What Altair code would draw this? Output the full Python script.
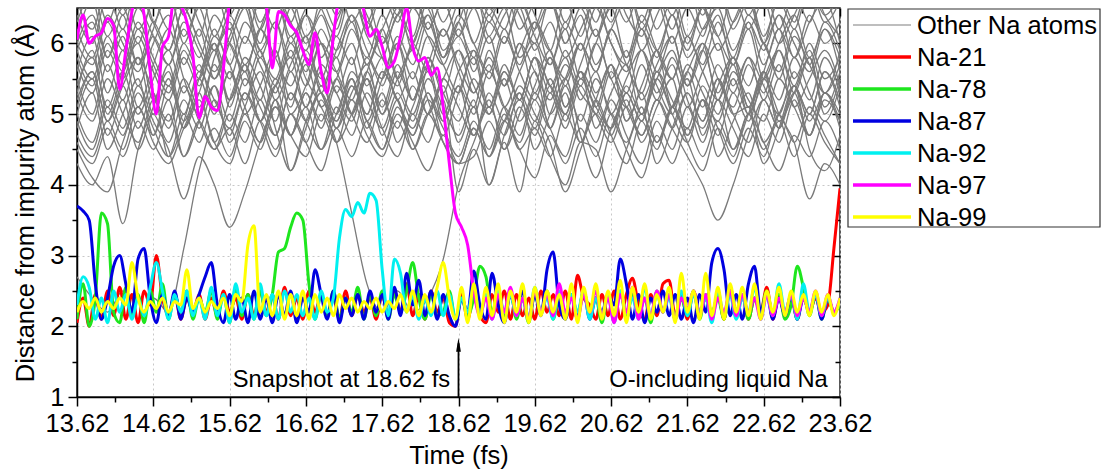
import altair as alt
import pandas as pd

FONT = "Liberation Sans"

# ---------------- axis ticks ----------------
x_major = [13.62, 14.62, 15.62, 16.62, 17.62, 18.62, 19.62, 20.62, 21.62, 22.62, 23.62]
x_minor = [14.12, 15.12, 16.12, 17.12, 18.12, 19.12, 20.12, 21.12, 22.12, 23.12]
y_major = [1, 2, 3, 4, 5, 6]
y_minor = [1.5, 2.5, 3.5, 4.5, 5.5]

# ---------------- time grids ----------------
T0 = 13.62
STEP_COLOR = 0.08   # highlighted atoms sampled every 0.08 fs (126 points)
STEP_GRAY = 0.2     # other atoms sampled every 0.2 fs (51 points)

# ---------------- highlighted atoms ----------------
series_names = ["Na-21", "Na-78", "Na-87", "Na-92", "Na-97", "Na-99"]
series_colors = ["#ff0000", "#1ee61e", "#0000e0", "#00f0f0", "#ff00ff", "#ffff00"]

na21 = [2.05, 2.40, 2.00, 2.45, 2.10, 2.50, 2.15, 2.55, 2.10, 2.45,
        2.05, 2.50, 2.30, 3.00, 2.40, 2.15, 2.45, 2.10, 2.40, 2.20,
        2.45, 2.10, 2.40, 2.15, 2.50, 2.20, 2.40, 2.10, 2.45, 2.15,
        2.50, 2.20, 2.45, 2.10, 2.55, 2.15, 2.40, 2.10, 2.50, 2.20,
        2.45, 2.15, 2.40, 2.10, 2.50, 2.15, 2.45, 2.20, 2.40, 2.10,
        2.45, 2.15, 2.50, 2.20, 2.60, 2.15, 2.45, 2.10, 2.50, 2.20,
        2.40, 2.05, 2.00, 2.45, 2.10, 2.40, 2.15, 2.05, 2.45, 2.20,
        2.50, 2.10, 2.45, 2.15, 2.40, 2.10, 2.50, 2.20, 2.45, 2.15,
        2.50, 2.10, 2.72, 2.40, 2.30, 2.10, 2.45, 2.15, 2.50, 2.10,
        2.45, 2.68, 2.30, 2.10, 2.45, 2.15, 2.60, 2.65, 2.15, 2.45,
        2.10, 2.50, 2.20, 2.40, 2.15, 2.45, 2.10, 2.55, 2.20, 2.45,
        2.10, 2.40, 2.20, 2.55, 2.10, 2.45, 2.15, 2.40, 2.10, 2.45,
        2.20, 2.40, 2.20, 2.30, 3.10, 3.95]

na78 = [2.10, 2.60, 2.00, 2.40, 3.60, 3.45, 2.20, 2.05, 2.55, 2.15,
        2.45, 2.05, 2.50, 2.20, 2.60, 2.10, 2.45, 2.20, 2.50, 2.10,
        2.40, 2.20, 2.50, 2.10, 2.45, 2.05, 2.55, 2.15, 2.45, 2.10,
        2.50, 2.15, 2.45, 3.05, 3.10, 3.40, 3.60, 3.50, 2.60, 2.10,
        2.45, 2.15, 2.50, 2.10, 2.40, 2.20, 2.55, 2.10, 2.45, 2.15,
        2.50, 2.10, 2.45, 2.20, 2.50, 2.90, 2.40, 2.10, 2.45, 2.15,
        2.20, 2.50, 2.10, 2.40, 2.15, 2.40, 2.85, 2.70, 2.20, 2.45,
        2.15, 2.50, 2.10, 2.40, 2.05, 2.45, 2.20, 2.50, 2.10, 2.40,
        2.15, 2.45, 2.10, 2.50, 2.20, 2.40, 2.05, 2.45, 2.15, 2.50,
        2.10, 2.45, 2.15, 2.40, 2.05, 2.50, 2.20, 2.45, 2.10, 2.40,
        2.15, 2.50, 2.10, 2.45, 2.20, 2.40, 2.10, 2.50, 2.15, 2.45,
        2.10, 2.40, 2.20, 2.50, 2.15, 2.45, 2.10, 2.30, 2.85, 2.55,
        2.15, 2.45, 2.10, 2.40, 2.20, 2.30]

na87 = [3.70, 3.63, 3.50, 2.60, 2.10, 2.40, 2.85, 3.00, 2.60, 2.20,
        2.95, 3.10, 2.40, 2.05, 2.45, 2.15, 2.50, 2.10, 2.40, 2.20,
        2.45, 2.70, 2.90, 2.30, 2.05, 2.45, 2.10, 2.40, 2.05, 2.50,
        2.10, 2.40, 2.05, 2.45, 2.15, 2.50, 2.05, 2.40, 2.20, 2.80,
        2.45, 2.10, 2.50, 2.05, 2.40, 2.15, 2.45, 2.10, 2.50, 2.20,
        2.45, 2.10, 2.55, 2.15, 2.75, 2.30, 2.65, 2.15, 2.50, 2.10,
        2.45, 2.15, 2.00, 2.40, 2.20, 2.78, 2.30, 2.10, 2.75, 2.30,
        2.05, 2.45, 2.20, 2.50, 2.10, 2.45, 2.15, 2.80, 3.05, 2.30,
        2.10, 2.45, 2.15, 2.50, 2.10, 2.40, 2.20, 2.45, 2.30, 2.95,
        2.60, 2.10, 2.45, 2.05, 2.40, 2.20, 2.50, 2.15, 2.45, 2.10,
        2.40, 2.05, 2.45, 2.20, 2.90, 3.10, 2.80, 2.15, 2.45, 2.10,
        2.60, 2.85, 2.20, 2.45, 2.10, 2.40, 2.15, 2.45, 2.10, 2.40,
        2.20, 2.45, 2.10, 2.40, 2.20, 2.35]

na92 = [2.30, 2.70, 2.55, 2.10, 2.40, 2.05, 2.50, 2.20, 2.45, 2.10,
        2.40, 2.15, 2.55, 2.90, 2.50, 2.10, 2.45, 2.20, 2.50, 2.15,
        2.40, 2.10, 2.55, 2.15, 2.45, 2.05, 2.60, 2.20, 2.40, 2.10,
        2.60, 2.15, 2.45, 2.10, 2.50, 2.20, 2.45, 2.15, 2.40, 2.10,
        2.50, 2.20, 2.40, 3.25, 3.65, 3.55, 3.75, 3.60, 3.88, 3.78,
        2.80, 2.15, 2.95, 2.75, 2.20, 2.45, 2.10, 2.40, 2.15, 2.50,
        2.15, 2.45, 2.10, 2.40, 2.20, 2.55, 2.15, 2.45, 2.10, 2.50,
        2.20, 2.45, 2.15, 2.40, 2.10, 2.55, 2.20, 2.40, 2.10, 2.50,
        2.15, 2.45, 2.20, 2.50, 2.10, 2.40, 2.15, 2.45, 2.05, 2.50,
        2.20, 2.40, 2.10, 2.55, 2.15, 2.45, 2.20, 2.40, 2.10, 2.50,
        2.15, 2.45, 2.20, 2.40, 2.05, 2.50, 2.15, 2.45, 2.10, 2.40,
        2.20, 2.55, 2.10, 2.45, 2.15, 2.60, 2.20, 2.45, 2.10, 2.60,
        2.20, 2.45, 2.15, 2.40, 2.20, 2.35]

na97 = [6.05, 6.40, 6.00, 6.10, 6.15, 6.35, 6.25, 5.35, 5.90, 6.45,
        6.70, 6.40, 5.60, 5.00, 5.95, 6.10, 6.70, 6.55, 6.30, 5.82,
        4.95, 5.25, 5.10, 5.05, 5.65, 6.60, 6.90, 7.00, 7.00, 6.90,
        6.80, 6.55, 5.65, 6.45, 6.40, 6.25, 6.15, 5.90, 5.70, 6.15,
        5.60, 5.30, 6.10, 6.70, 6.90, 7.00, 6.90, 6.45, 6.10, 6.20,
        5.95, 5.66, 5.75, 6.10, 6.50, 5.95, 5.75, 5.80, 5.55, 5.65,
        5.10, 4.30, 3.60, 3.40, 3.15, 2.50, 2.15, 2.40, 2.10, 2.45,
        2.20, 2.55, 2.15, 2.40, 2.10, 2.50, 2.20, 2.45, 2.15, 2.60,
        2.20, 2.40, 2.10, 2.45, 2.20, 2.50, 2.15, 2.40, 2.05, 2.45,
        2.20, 2.55, 2.10, 2.40, 2.15, 2.50, 2.20, 2.45, 2.10, 2.40,
        2.25, 2.50, 2.15, 2.45, 2.10, 2.40, 2.20, 2.50, 2.15, 2.45,
        2.20, 2.40, 2.10, 2.45, 2.15, 2.40, 2.20, 2.45, 2.15, 2.40,
        2.20, 2.50, 2.15, 2.45, 2.20, 2.40]

na99 = [2.20, 2.35, 2.25, 2.40, 2.20, 2.35, 2.25, 2.40, 2.30, 2.90,
        2.40, 2.20, 2.35, 2.25, 2.40, 2.20, 2.35, 2.30, 2.80, 2.25,
        2.40, 2.20, 2.35, 2.25, 2.40, 2.15, 2.45, 2.35, 3.15, 3.42,
        2.20, 2.45, 2.15, 2.50, 2.10, 2.45, 2.15, 2.50, 2.10, 2.45,
        2.20, 2.40, 2.15, 2.45, 2.25, 2.40, 2.20, 2.35, 2.25, 2.40,
        2.20, 2.35, 2.25, 2.45, 2.20, 2.50, 2.15, 2.45, 2.20, 2.55,
        2.90, 2.40, 2.10, 2.55, 2.05, 2.60, 2.10, 2.55, 2.15, 2.60,
        2.05, 2.50, 2.20, 2.60, 2.05, 2.55, 2.15, 2.50, 2.20, 2.45,
        2.10, 2.60, 2.05, 2.55, 2.20, 2.60, 2.10, 2.50, 2.15, 2.65,
        2.05, 2.55, 2.20, 2.60, 2.10, 2.45, 2.20, 2.55, 2.05, 2.75,
        2.20, 2.50, 2.10, 2.75, 2.15, 2.55, 2.10, 2.60, 2.20, 2.55,
        2.15, 2.60, 2.10, 2.50, 2.20, 2.55, 2.15, 2.50, 2.20, 2.45,
        2.15, 2.50, 2.20, 2.45, 2.15, 2.40]

series_values = [na21, na78, na87, na92, na97, na99]

# ---------------- other Na atoms ----------------
g01 = [4.5, 4.1, 3.9, 4.6, 5.1, 4.7, 5.4, 5.0, 5.6, 5.2, 4.8, 5.3, 4.9, 5.5, 5.1, 5.8, 5.3, 4.9, 5.4, 5.0,
       5.6, 5.2, 4.8, 5.3, 4.6, 4.3, 4.4, 4.9, 4.5, 5.1, 4.7, 5.3, 4.8, 5.4, 5.0, 5.6, 5.1, 4.7, 5.2, 4.8,
       5.3, 4.9, 5.5, 5.0, 4.6, 5.2, 4.8, 5.4, 4.9, 5.3, 4.9]
g02 = [4.3, 4.0, 4.4, 3.45, 4.5, 5.0, 4.6, 5.2, 4.8, 5.4, 4.9, 5.5, 5.1, 4.7, 5.3, 4.9, 5.4, 5.0, 5.6, 5.2,
       4.8, 5.3, 4.9, 5.5, 5.1, 4.7, 5.2, 4.0, 4.7, 5.2, 4.8, 5.4, 4.9, 5.5, 5.1, 4.8, 5.3, 4.9, 5.6, 5.2,
       4.8, 5.4, 5.0, 5.6, 5.2, 4.9, 5.5, 5.1, 4.7, 5.3, 5.0]
g03 = [5.0, 4.6, 5.2, 4.8, 5.4, 4.9, 4.5, 3.8, 4.4, 4.0, 3.4, 3.9, 4.6, 5.1, 4.7, 5.3, 4.8, 5.4, 5.0, 4.6,
       5.2, 4.8, 5.4, 5.0, 5.5, 5.1, 4.7, 5.3, 4.9, 5.4, 5.0, 4.6, 3.9, 4.5, 5.0, 4.7, 5.3, 4.9, 5.5, 5.0,
       4.6, 5.2, 4.7, 5.3, 4.9, 5.5, 5.0, 4.6, 3.8, 4.3, 4.0]
g04 = [5.8, 5.4, 6.0, 5.6, 6.2, 5.7, 5.3, 5.9, 5.5, 6.1, 5.7, 5.2, 5.8, 5.4, 6.0, 5.5, 5.1, 4.6, 3.6, 2.6,
       2.2, 2.5, 2.2, 2.4, 2.95, 4.0, 4.6, 5.1, 4.7, 5.3, 4.9, 5.5, 5.0, 5.6, 5.2, 4.8, 5.4, 5.0, 5.6, 5.1,
       5.7, 5.3, 4.9, 5.5, 5.0, 5.6, 5.2, 5.8, 5.3, 4.9, 5.4]
g05 = [6.2, 5.8, 6.4, 6.0, 5.6, 6.1, 5.7, 6.3, 5.9, 5.5, 6.0, 5.6, 6.2, 5.8, 5.4, 5.9, 5.5, 6.1, 5.7, 6.3,
       5.8, 5.4, 6.0, 5.6, 6.2, 5.7, 5.3, 5.8, 5.4, 6.0, 5.6, 5.2, 5.7, 5.3, 5.0, 4.6, 5.1, 4.7, 5.2, 4.8,
       4.4, 4.0, 3.5, 4.0, 4.7, 5.2, 4.8, 5.4, 5.0, 5.6, 5.2]
g06 = [5.3, 4.9, 5.5, 5.0, 4.6, 5.2, 4.8, 5.4, 4.9, 4.5, 5.0, 4.6, 5.2, 4.7, 5.3, 4.9, 4.5, 5.1, 4.7, 5.3,
       4.8, 4.4, 5.0, 4.6, 5.2, 3.9, 4.5, 4.0, 4.6, 3.9, 4.9, 4.4, 4.0, 4.6, 4.5, 3.9, 4.5, 5.0, 4.6, 5.1,
       4.7, 5.2, 4.8, 4.3, 4.8, 4.4, 5.0, 4.6, 5.1, 4.7, 4.3]
g07 = [5.4, 5.8, 5.1, 5.6, 5.0, 5.5, 5.9, 5.3, 5.7, 5.1, 5.6, 5.0, 5.4, 5.9, 5.2, 5.7, 5.1, 5.5, 6.0, 5.4,
       5.8, 5.2, 5.6, 5.0, 5.5, 5.9, 5.3, 5.7, 5.1, 5.6, 6.0, 5.4, 5.8, 5.2, 5.6, 5.0, 5.5, 5.9, 5.3, 5.7,
       5.1, 5.6, 6.0, 5.4, 5.8, 5.2, 5.7, 5.1, 5.5, 5.9, 5.4]
g08 = [6.0, 6.4, 5.8, 6.2, 5.7, 6.3, 5.9, 6.5, 6.0, 5.6, 6.1, 6.6, 5.9, 6.3, 5.8, 6.4, 6.0, 5.6, 6.2, 5.8,
       6.4, 5.9, 6.5, 6.1, 5.7, 6.2, 5.8, 6.4, 6.0, 6.6, 6.1, 5.7, 6.3, 5.9, 6.5, 6.0, 5.6, 6.2, 5.8, 6.4,
       5.9, 6.5, 6.1, 5.7, 6.3, 5.9, 6.4, 6.0, 5.6, 6.2, 5.8]
g09 = [4.9, 4.5, 5.1, 4.7, 5.3, 4.8, 4.4, 5.0, 4.6, 5.2, 4.7, 5.3, 4.9, 4.4, 5.0, 4.6, 5.2, 4.8, 5.4, 4.9,
       4.5, 5.1, 4.7, 5.2, 4.8, 4.4, 4.9, 4.5, 5.1, 4.7, 5.3, 4.8, 4.4, 5.0, 4.6, 5.2, 4.7, 4.3, 4.9, 4.5,
       5.1, 4.6, 5.2, 4.8, 4.4, 5.0, 4.6, 5.2, 4.7, 5.3, 4.8]
g10 = [6.6, 6.2, 6.8, 6.4, 6.9, 6.3, 6.7, 6.1, 6.6, 6.9, 6.4, 6.8, 6.2, 6.7, 6.3, 6.9, 6.5, 6.1, 6.7, 6.3,
       6.8, 6.4, 6.9, 6.2, 6.6, 6.1, 6.7, 6.3, 6.8, 6.4, 6.0, 6.6, 6.2, 6.8, 6.3, 6.9, 6.4, 6.1, 6.7, 6.2,
       6.8, 6.4, 6.9, 6.3, 6.7, 6.1, 6.6, 6.2, 6.8, 6.4, 6.7]
g11 = [5.7, 5.3, 5.9, 5.5, 6.1, 5.6, 5.2, 5.8, 5.4, 6.0, 5.5, 6.1, 5.7, 5.3, 5.9, 5.4, 6.0, 5.6, 5.2, 5.8,
       5.4, 6.0, 5.5, 6.1, 5.7, 5.3, 5.9, 5.5, 6.1, 5.6, 5.2, 5.8, 5.4, 6.0, 5.6, 6.2, 5.7, 5.3, 5.9, 5.5,
       6.1, 5.6, 5.2, 5.8, 5.4, 6.0, 5.5, 6.1, 5.7, 5.3, 5.9]
g12 = [5.2, 5.6, 4.9, 5.4, 4.8, 5.3, 4.4, 4.9, 5.5, 5.0, 5.6, 5.1, 4.6, 5.2, 4.2, 4.8, 5.3, 4.9, 5.5, 5.0,
       5.6, 5.2, 4.7, 5.3, 4.9, 5.4, 5.0, 5.6, 5.1, 4.6, 5.2, 4.8, 5.4, 4.9, 5.5, 5.0, 4.6, 5.1, 4.3, 4.8,
       5.3, 4.9, 5.5, 5.0, 5.1, 4.3, 4.8, 5.4, 5.0, 5.6, 5.1]
g13 = [6.3, 6.7, 6.1, 6.5, 6.0, 6.6, 6.2, 6.8, 6.3, 5.9, 6.4, 6.0, 6.6, 6.2, 6.7, 6.1, 6.5, 6.9, 6.3, 6.6,
       6.0, 6.4, 6.8, 6.2, 6.6, 6.1, 6.5, 6.0, 6.4, 6.7, 6.2, 6.6, 6.0, 6.5, 6.1, 6.7, 6.3, 6.8, 6.2, 6.6,
       6.0, 6.5, 6.1, 6.7, 6.2, 6.6, 6.0, 6.4, 6.8, 6.3, 6.6]
g14 = [4.6, 4.3, 4.8, 4.4, 4.9, 4.5, 5.0, 4.4, 4.9, 4.5, 4.8, 4.3, 4.9, 4.5, 5.0, 4.6, 4.2, 4.8, 4.4, 4.9,
       4.5, 5.0, 4.6, 4.2, 4.7, 4.3, 4.8, 4.4, 4.9, 4.5, 4.1, 4.7, 4.3, 4.8, 4.4, 5.0, 4.5, 4.1, 4.7, 4.3,
       4.8, 4.4, 4.9, 4.5, 5.0, 4.6, 4.2, 4.7, 4.4, 4.9, 4.5]
g15 = [5.9, 5.5, 6.1, 5.7, 6.3, 5.8, 5.4, 6.0, 5.6, 6.2, 5.7, 6.3, 5.9, 5.5, 6.1, 5.6, 6.2, 5.8, 6.4, 5.9,
       5.5, 6.1, 5.7, 6.3, 5.8, 6.4, 6.0, 5.6, 6.2, 5.7, 6.3, 5.9, 5.5, 6.0, 5.6, 6.2, 5.8, 6.4, 5.9, 5.5,
       6.1, 5.7, 6.3, 5.8, 6.4, 6.0, 5.6, 6.2, 5.7, 6.3, 5.9]
g16 = [5.5, 5.0, 5.7, 5.2, 5.8, 5.3, 4.9, 5.5, 5.1, 5.7, 5.2, 5.8, 5.4, 4.9, 5.6, 5.1, 5.7, 5.3, 4.9, 5.5,
       5.0, 5.6, 5.2, 5.8, 5.3, 4.9, 5.5, 5.1, 5.7, 5.2, 5.8, 5.4, 5.0, 5.6, 5.1, 5.7, 5.3, 5.9, 5.4, 5.0,
       5.6, 5.1, 5.7, 5.3, 5.8, 5.4, 5.0, 5.6, 5.2, 5.8, 5.3]
g17 = [2.7, 2.4, 2.2, 2.5, 2.1, 2.4, 2.2, 3.1, 4.2, 4.8, 4.4, 5.0, 4.6, 5.2, 4.7, 5.3, 4.9, 5.5, 5.0, 5.6,
       5.1, 5.7, 5.2, 5.8, 5.3, 5.9, 5.4, 5.0, 5.6, 5.2, 5.8, 5.3, 5.9, 5.4, 6.0, 5.5, 5.1, 5.7, 5.2, 5.8,
       5.4, 6.0, 5.5, 5.1, 5.7, 5.3, 5.9, 5.4, 6.0, 5.5, 5.8]
g18 = [5.6, 6.1, 5.3, 5.9, 5.1, 5.7, 6.2, 5.5, 5.0, 5.8, 6.2, 5.4, 5.9, 5.2, 5.7, 6.1, 5.3, 5.8, 5.0, 5.6,
       6.1, 5.5, 5.0, 5.7, 6.2, 5.6, 5.1, 5.9, 5.4, 6.0, 5.3, 5.8, 5.1, 5.7, 6.2, 5.5, 5.9, 5.2, 5.7, 6.1,
       5.4, 5.9, 5.3, 5.8, 5.1, 5.6, 6.2, 5.5, 5.9, 5.3, 5.7]
g19 = [4.8, 5.3, 4.5, 5.0, 5.5, 4.7, 5.2, 4.4, 4.9, 5.4, 4.6, 5.1, 5.6, 4.8, 4.2, 4.9, 5.3, 4.6, 5.0, 5.5,
       4.7, 5.2, 4.5, 5.0, 5.4, 4.6, 5.1, 4.4, 4.9, 5.3, 4.5, 5.0, 5.5, 4.7, 4.1, 4.8, 5.2, 4.6, 5.1, 5.5,
       4.7, 5.2, 4.4, 4.9, 5.3, 4.6, 5.0, 5.4, 4.5, 4.2, 4.7]
g20 = [6.4, 6.0, 6.7, 6.2, 6.9, 6.3, 5.9, 6.5, 6.1, 6.8, 6.2, 6.6, 6.0, 6.7, 6.3, 5.9, 6.6, 6.2, 6.9, 6.4,
       6.0, 6.5, 6.1, 6.8, 6.3, 6.7, 6.0, 6.5, 6.2, 6.8, 6.4, 5.9, 6.6, 6.1, 6.7, 6.3, 6.9, 6.2, 6.6, 6.0,
       6.5, 6.1, 6.8, 6.2, 6.6, 6.0, 6.7, 6.3, 6.9, 6.4, 6.1]
g21 = [5.1, 5.6, 4.9, 5.4, 5.8, 5.0, 5.5, 4.8, 5.3, 5.9, 5.2, 5.6, 4.9, 5.4, 5.8, 5.1, 5.6, 4.8, 5.3, 5.7,
       5.0, 5.5, 5.9, 5.2, 4.7, 5.3, 5.8, 5.0, 5.5, 4.9, 5.4, 5.9, 5.1, 5.6, 4.8, 5.3, 5.7, 5.0, 5.5, 5.9,
       5.2, 4.8, 5.4, 5.8, 5.1, 5.6, 4.9, 5.3, 5.8, 5.0, 5.5]
g22 = [5.9, 6.3, 5.6, 6.1, 5.4, 6.0, 6.4, 5.7, 6.2, 5.5, 6.0, 6.5, 5.8, 6.3, 5.6, 6.1, 5.4, 5.9, 6.4, 5.7,
       6.2, 5.5, 6.0, 6.4, 5.8, 6.3, 5.6, 6.1, 5.4, 5.9, 6.3, 5.7, 6.2, 5.5, 6.0, 6.5, 5.8, 6.2, 5.6, 6.1,
       5.4, 5.9, 6.4, 5.7, 6.2, 5.5, 6.0, 6.4, 5.8, 6.2, 5.6]
g23 = [4.7, 4.4, 4.9, 4.5, 5.1, 4.6, 4.3, 4.8, 5.2, 4.6, 4.3, 4.9, 4.5, 5.1, 4.7, 4.4, 5.0, 4.6, 5.2, 4.7,
       4.4, 4.9, 4.5, 5.0, 4.6, 4.3, 4.8, 4.4, 5.0, 4.5, 4.8, 4.4, 5.0, 4.6, 5.2, 4.7, 4.3, 4.9, 4.5, 5.1,
       4.6, 4.2, 4.8, 4.4, 5.0, 4.5, 4.9, 4.4, 5.0, 4.6, 4.3]
g24 = [6.1, 6.6, 5.8, 6.4, 5.7, 6.2, 6.8, 6.0, 6.5, 5.9, 6.3, 5.7, 6.2, 6.7, 6.0, 6.4, 5.8, 6.3, 6.7, 6.1,
       5.8, 6.4, 6.0, 6.6, 5.9, 6.3, 6.8, 6.1, 6.5, 5.8, 6.2, 6.7, 6.0, 6.4, 5.7, 6.2, 6.6, 5.9, 6.4, 6.8,
       6.1, 6.5, 5.9, 6.3, 6.7, 6.0, 6.4, 5.8, 6.3, 6.6, 6.0]
g25 = [5.3, 5.9, 5.0, 5.6, 6.0, 5.2, 5.7, 4.9, 5.5, 6.0, 5.1, 5.7, 5.2, 5.9, 5.0, 5.4, 6.0, 5.3, 5.8, 4.9,
       5.5, 6.0, 5.2, 5.7, 5.0, 5.6, 5.9, 5.1, 5.6, 5.2, 5.8, 5.0, 5.5, 6.0, 5.3, 5.7, 4.9, 5.4, 5.9, 5.1,
       5.6, 6.0, 5.2, 5.7, 5.0, 5.5, 5.9, 5.3, 5.8, 5.1, 5.6]
g26 = [6.5, 6.9, 6.3, 6.8, 6.2, 6.6, 7.0, 6.4, 6.8, 6.1, 6.6, 6.9, 6.3, 6.7, 6.1, 6.5, 6.9, 6.4, 6.8, 6.2,
       6.7, 6.3, 6.9, 6.5, 6.1, 6.6, 7.0, 6.4, 6.8, 6.2, 6.6, 6.9, 6.3, 6.7, 6.1, 6.6, 6.9, 6.3, 6.8, 6.4,
       6.9, 6.2, 6.6, 7.0, 6.4, 6.8, 6.2, 6.7, 6.3, 6.9, 6.5]
g27 = [5.0, 5.5, 4.7, 5.2, 4.5, 5.1, 5.6, 4.8, 5.3, 4.6, 5.2, 5.7, 4.9, 5.4, 4.7, 5.1, 4.5, 5.0, 5.5, 4.8,
       5.3, 4.6, 5.1, 5.6, 4.9, 5.4, 4.7, 5.2, 4.5, 5.0, 5.6, 4.8, 5.3, 4.6, 5.2, 5.7, 4.9, 5.3, 4.6, 5.1,
       5.5, 4.7, 5.2, 4.5, 5.0, 5.6, 4.8, 5.3, 4.7, 5.2, 4.9]
g28 = [6.0, 5.7, 6.3, 5.9, 6.5, 6.1, 5.7, 6.2, 5.8, 6.4, 6.0, 5.6, 6.2, 5.8, 6.5, 6.0, 6.4, 5.9, 6.3, 5.7,
       6.2, 6.6, 5.9, 6.4, 5.8, 6.1, 5.7, 6.3, 6.0, 6.5, 5.9, 6.3, 5.8, 6.2, 6.6, 6.0, 5.7, 6.3, 5.9, 6.4,
       5.8, 6.2, 6.5, 5.9, 6.3, 5.7, 6.2, 5.8, 6.4, 6.0, 6.3]

gray_values = [g01, g02, g03, g04, g05, g06, g07, g08, g09, g10, g11, g12, g13, g14,
               g15, g16, g17, g18, g19, g20, g21, g22, g23, g24, g25, g26, g27, g28]

# ---------------- annotations / legend text ----------------
note_labels = ["Snapshot at 18.62 fs", "O-including liquid Na"]
note_t = [18.51, 23.46]
note_v = [1.24, 1.24]
arrow_t = [18.62]
arrow_from = [1.0]
arrow_to = [1.76]
arrow_head = [1.74]
legend_labels = ["Other Na atoms"] + series_names
legend_colors = ["#7f7f7f"] + series_colors
legend_widths = [1.2] + [3.5] * 6

# ---------------- build tables ----------------
rows = []
for k, vals in enumerate(gray_values):
    for j, v in enumerate(vals):
        rows.append({"t": round(T0 + STEP_GRAY * j, 3), "v": v, "id": f"g{k}"})
df_gray = pd.DataFrame(rows)

color_frames = []
for name, vals in zip(series_names, series_values):
    color_frames.append(pd.DataFrame({"t": [round(T0 + STEP_COLOR * i, 3) for i in range(len(vals))],
                                      "v": vals}))

df_note = pd.DataFrame({"t": note_t, "v": note_v, "label": note_labels})
df_arrow = pd.DataFrame({"t": arrow_t, "v": arrow_from, "v2": arrow_to, "vh": arrow_head})
anchor = pd.DataFrame({"t": [13.62], "v": [1.0]})

xs = alt.Scale(domain=[13.62, 23.62], nice=False, zero=False)
ys = alt.Scale(domain=[1, 6.5], nice=False, zero=False)

tick_style = dict(tickColor="black", tickWidth=1.5, grid=False, title=None, labels=False, domain=False)

gray = alt.Chart(df_gray).mark_line(
    color="#7a7a7a", strokeWidth=1.3, interpolate="monotone", clip=True
).encode(
    x=alt.X("t:Q", scale=xs, axis=alt.Axis(
        orient="bottom", values=x_major, format=".2f", title="Time (fs)",
        grid=True, gridDash=[2, 3], gridColor="#c8c8c8", gridWidth=1,
        tickSize=9, tickWidth=1.5, tickColor="black", domainColor="black", domainWidth=1.5,
        labelPadding=5, titlePadding=7, labelFlush=False)),
    y=alt.Y("v:Q", scale=ys, axis=alt.Axis(
        orient="left", values=y_major, format="d", title="Distance from impurity atom (Å)",
        grid=True, gridDash=[2, 3], gridColor="#c8c8c8", gridWidth=1,
        tickSize=9, tickWidth=1.5, tickColor="black", domainColor="black", domainWidth=1.5,
        labelPadding=4, titlePadding=11)),
    detail="id:N",
)

minor_axes = alt.Chart(anchor).mark_point(opacity=0).encode(
    x=alt.X("t:Q", scale=xs, axis=alt.Axis(orient="bottom", values=x_minor, tickSize=5, **tick_style)),
    y=alt.Y("v:Q", scale=ys, axis=alt.Axis(orient="left", values=y_minor, tickSize=5, **tick_style)),
)
frame_major = alt.Chart(anchor).mark_point(opacity=0).encode(
    x=alt.X("t:Q", scale=xs, axis=alt.Axis(orient="top", values=x_major, tickSize=8, offset=-8, **tick_style)),
    y=alt.Y("v:Q", scale=ys, axis=alt.Axis(orient="right", values=y_major, tickSize=8, offset=-8, **tick_style)),
)
frame_minor = alt.Chart(anchor).mark_point(opacity=0).encode(
    x=alt.X("t:Q", scale=xs, axis=alt.Axis(orient="top", values=x_minor, tickSize=5, offset=-5, **tick_style)),
    y=alt.Y("v:Q", scale=ys, axis=alt.Axis(orient="right", values=y_minor, tickSize=5, offset=-5, **tick_style)),
)

color_layers = []
for name, col, df in zip(series_names, series_colors, color_frames):
    color_layers.append(
        alt.Chart(df).mark_line(color=col, strokeWidth=3, interpolate="monotone", clip=True).encode(
            x=alt.X("t:Q", scale=xs, axis=None),
            y=alt.Y("v:Q", scale=ys, axis=None),
        )
    )

notes = alt.Chart(df_note).mark_text(
    align="right", baseline="middle", fontSize=23.7, font=FONT, color="black"
).encode(
    x=alt.X("t:Q", scale=xs, axis=None), y=alt.Y("v:Q", scale=ys, axis=None), text="label:N"
)
arrow_line = alt.Chart(df_arrow).mark_rule(color="black", strokeWidth=1.8).encode(
    x=alt.X("t:Q", scale=xs, axis=None), y=alt.Y("v:Q", scale=ys, axis=None), y2="v2:Q"
)
arrow_tip = alt.Chart(df_arrow).mark_point(
    shape="M0,-1L0.34,1L-0.34,1Z", size=196, filled=True, color="black", opacity=1
).encode(
    x=alt.X("t:Q", scale=xs, axis=None), y=alt.Y("vh:Q", scale=ys, axis=None)
)

# legend box (outside the plot area, right side)
LEG_X0, LEG_X1, LEG_Y0, LEG_Y1 = 771, 1023, 1, 219
legend_layers = [
    alt.Chart(anchor).mark_rect(fill="white", stroke="#333333", strokeWidth=1.2).encode(
        x=alt.value(LEG_X0), x2=alt.value(LEG_X1), y=alt.value(LEG_Y0), y2=alt.value(LEG_Y1)
    )
]
for i, (lab, col, w) in enumerate(zip(legend_labels, legend_colors, legend_widths)):
    yy = 17 + i * 32
    legend_layers.append(
        alt.Chart(anchor).mark_rule(color=col, strokeWidth=w).encode(
            x=alt.value(776), x2=alt.value(834), y=alt.value(yy)
        )
    )
    legend_layers.append(
        alt.Chart(anchor).mark_text(align="left", baseline="middle", fontSize=25.5, font=FONT, color="black").encode(
            x=alt.value(840), y=alt.value(yy + 1), text=alt.value(lab)
        )
    )

chart = alt.layer(
    gray, minor_axes, frame_major, frame_minor, *color_layers, notes, arrow_line, arrow_tip, *legend_layers
).resolve_axis(
    x="independent", y="independent"
).properties(
    width=763, height=389,
    autosize=alt.AutoSizeParams(type="none"),
    padding={"left": 77, "top": 8, "right": 264, "bottom": 75},
).configure_view(
    stroke="#222222", strokeWidth=1.5
).configure_axis(
    labelFont=FONT, titleFont=FONT, labelFontSize=25.5, titleFontSize=25.5,
    labelColor="black", titleColor="black", titleFontWeight="normal"
)

chart.save("out.html", embed_options={"renderer": "svg", "actions": False})
